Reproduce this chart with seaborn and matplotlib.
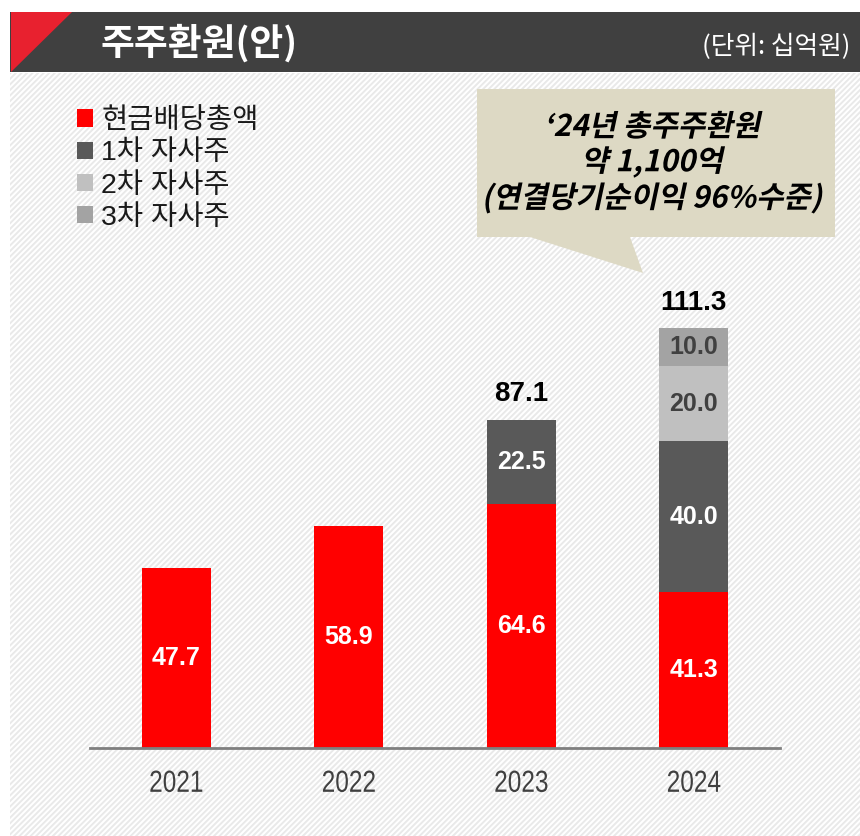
import matplotlib
matplotlib.use("Agg")
import matplotlib.pyplot as plt
import seaborn as sns
from matplotlib.patches import Rectangle, Polygon
from matplotlib.patheffects import AbstractPathEffect
from matplotlib.transforms import Affine2D

sns.set_theme(style="white")
plt.rcParams['font.family'] = ['Liberation Sans', 'Noto Sans CJK KR', 'DejaVu Sans']
plt.rcParams['hatch.linewidth'] = 1.4

# ---- data ----
years = ['2021', '2022', '2023', '2024']
cash_dividend = [47.7, 58.9, 64.6, 41.3]
buyback_1 = [0.0, 0.0, 22.5, 40.0]
buyback_2 = [0.0, 0.0, 0.0, 20.0]
buyback_3 = [0.0, 0.0, 0.0, 10.0]
total_labels = ['', '', '87.1', '111.3']
series_names = ['현금배당총액', '1차 자사주', '2차 자사주', '3차 자사주']
series_colors = ['#FF0000', '#595959', '#C0C0C0', '#A3A3A3']
label_colors = ['white', 'white', '#404040', '#404040']

W, H = 860, 836
fig = plt.figure(figsize=(W / 100, H / 100), dpi=100)
fig.patch.set_facecolor('white')


def fx(x):
    return x / W


def fy(y):
    return 1 - y / H


class Skew(AbstractPathEffect):
    def __init__(self, deg=12):
        super().__init__()
        self.deg = deg

    def draw_path(self, renderer, gc, tpath, affine, rgbFace=None):
        aff = Affine2D().skew_deg(self.deg, 0) + affine
        renderer.draw_path(gc, tpath, aff, rgbFace)


class Narrow(AbstractPathEffect):
    def __init__(self, sx=0.82):
        super().__init__()
        self.sx = sx

    def draw_path(self, renderer, gc, tpath, affine, rgbFace=None):
        ext = tpath.get_extents()
        cx = (ext.x0 + ext.x1) / 2
        aff = Affine2D().translate(-cx, 0).scale(self.sx, 1).translate(cx, 0) + affine
        renderer.draw_path(gc, tpath, aff, rgbFace)


# hatched background
bg = Rectangle((fx(10), 0), 1 - fx(10), fy(73), transform=fig.transFigure,
               facecolor='white', edgecolor='#E9E9E9', hatch='//////', linewidth=0,
               zorder=-10)
fig.patches.append(bg)

# header bar
hdr = Rectangle((fx(10), fy(72)), 1 - fx(10), fy(12) - fy(72), transform=fig.transFigure,
                facecolor='#404040', edgecolor='none', zorder=-5)
fig.patches.append(hdr)
tri = Polygon([(fx(11), fy(12)), (fx(72), fy(12)), (fx(11), fy(72))], closed=True,
              transform=fig.transFigure, facecolor='#E8212F', edgecolor='none', zorder=-4)
fig.patches.append(tri)
fig.text(fx(100), fy(43), '주주환원(안)', color='white', fontsize=26.5, fontweight='bold',
         ha='left', va='center', family=['Noto Sans CJK KR', 'DejaVu Sans'])
fig.text(fx(850), fy(47), '(단위: 십억원)', color='white', fontsize=18.5,
         ha='right', va='center', family=['Noto Sans CJK KR', 'DejaVu Sans'])

# axes
scale = 3.77  # px per unit
ymax = 150
ax_h = ymax * scale
ax = fig.add_axes([fx(90), fy(748), fx(780) - fx(90), ax_h / H])
ax.set_facecolor('none')

bottoms = [0.0] * len(years)
layers = [cash_dividend, buyback_1, buyback_2, buyback_3]
for vals, name, col, lc in zip(layers, series_names, series_colors, label_colors):
    sns.barplot(x=years, y=vals, bottom=bottoms, color=col, width=0.4, ax=ax,
                label=name, saturation=1, linewidth=0)
    for i, v in enumerate(vals):
        if v > 0:
            ax.text(i, bottoms[i] + v / 2, f'{v:.1f}', color=lc, fontsize=18,
                    fontweight='bold', ha='center', va='center')
    bottoms = [b + v for b, v in zip(bottoms, vals)]

for i, lab in enumerate(total_labels):
    if lab:
        ax.text(i, bottoms[i] + 3.4, lab, color='black', fontsize=20,
                fontweight='bold', ha='center', va='bottom')

ax.set_xlim(-0.5, 3.5)
ax.set_ylim(0, ymax)
ax.set_yticks([])
for s in ['left', 'right', 'top']:
    ax.spines[s].set_visible(False)
ax.spines['bottom'].set_color('#7F7F7F')
ax.spines['bottom'].set_linewidth(2)
ax.tick_params(axis='x', length=0, pad=15, labelsize=22, labelcolor='#404040')
for t in ax.get_xticklabels():
    t.set_path_effects([Narrow(0.8)])
ax.set_xlabel('')

leg = ax.legend(loc='upper left', bbox_to_anchor=(fx(77), fy(108)),
                bbox_transform=fig.transFigure, frameon=False,
                handlelength=0.55, handleheight=0.55, handletextpad=0.3,
                labelspacing=0.22, borderpad=0, borderaxespad=0,
                prop={'family': ['Liberation Sans', 'Noto Sans CJK KR'], 'size': 20.5})
for t in leg.get_texts():
    t.set_color('#1A1A1A')

# callout
callout = Polygon([(fx(477), fy(89)), (fx(835), fy(89)), (fx(835), fy(237)),
                   (fx(630), fy(237)), (fx(643), fy(273)), (fx(530), fy(237)),
                   (fx(477), fy(237))], closed=True, transform=fig.transFigure,
                  facecolor='#DDD9C4', edgecolor='none', zorder=2)
fig.patches.append(callout)
lines = ["‘24년 총주주환원", '약 1,100억', '(연결당기순이익 96%수준)']
ys = [127, 162, 198]
for ln, yy in zip(lines, ys):
    fig.text(fx(652), fy(yy), ln, color='black', fontsize=21.5, fontweight='bold',
             ha='center', va='center', zorder=3,
             family=['Noto Sans CJK KR', 'DejaVu Sans'], path_effects=[Skew(12)])

fig.savefig('out.png', dpi=100)
